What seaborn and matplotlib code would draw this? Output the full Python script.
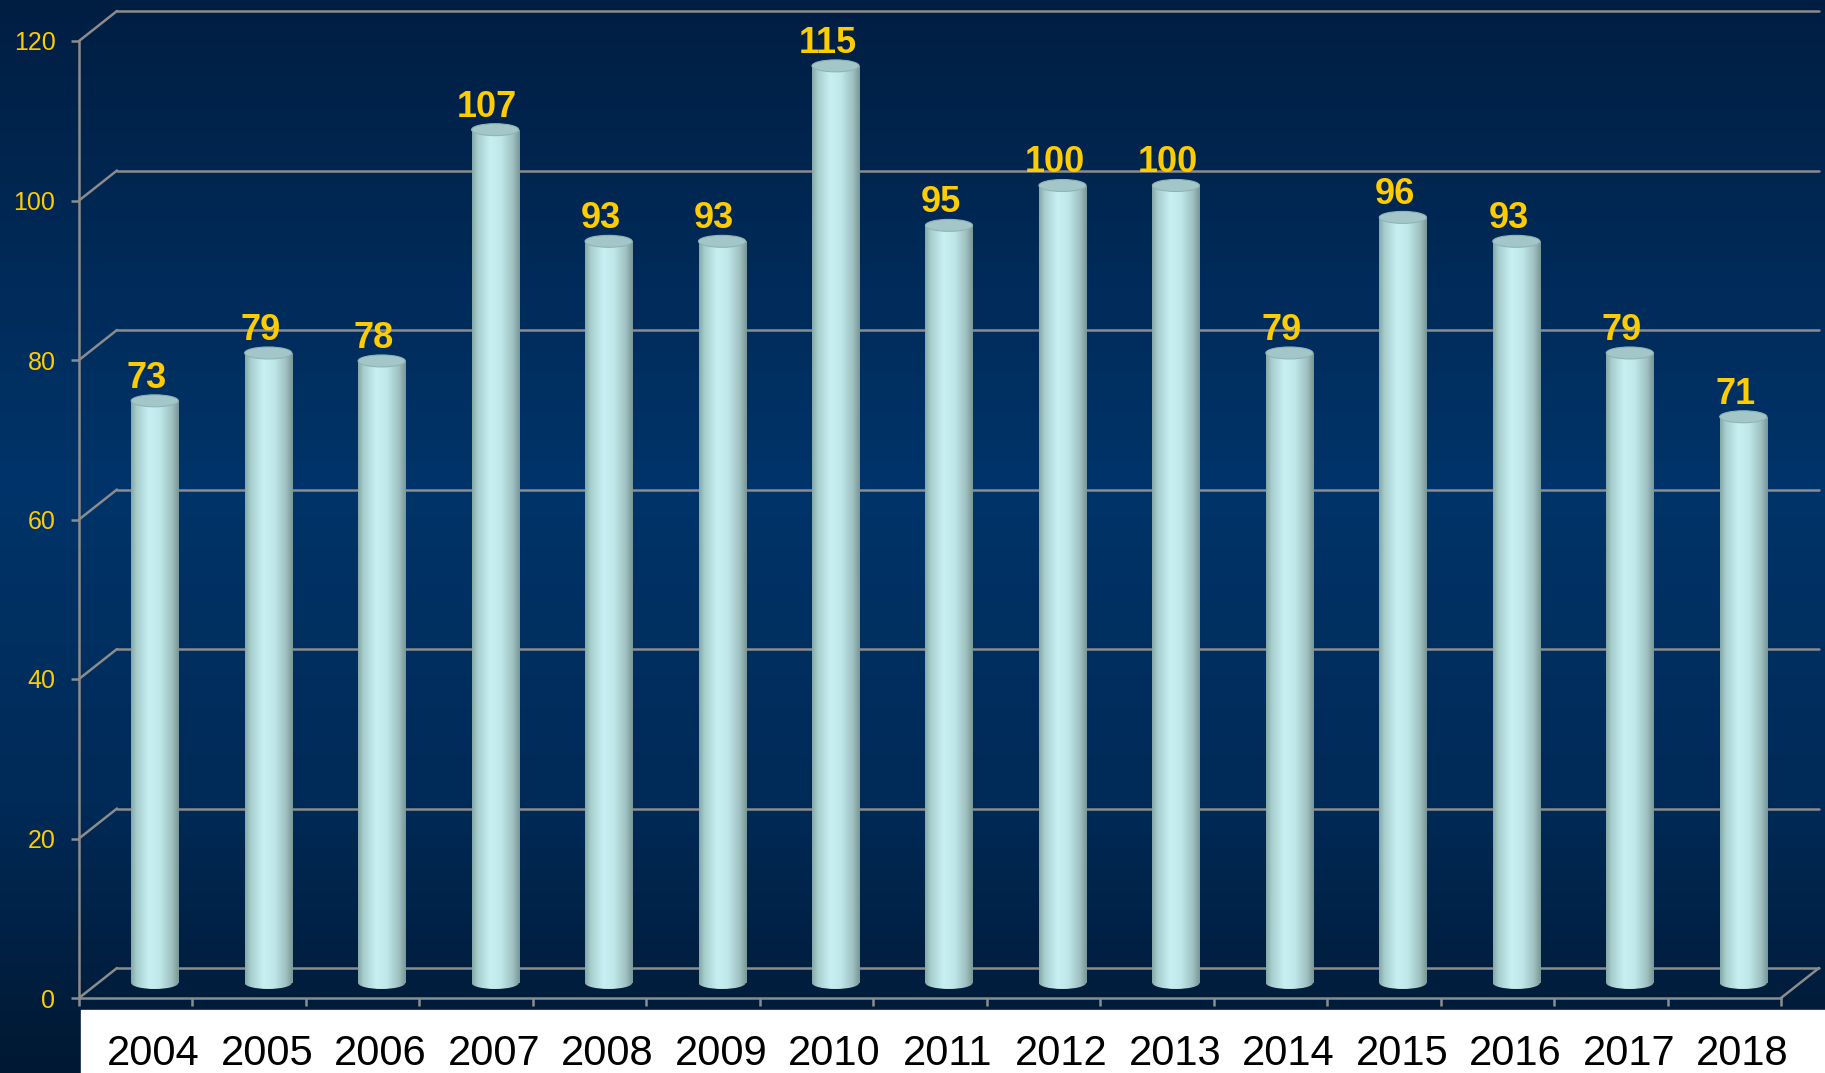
import numpy as np
import pandas as pd
import seaborn as sns
import matplotlib
matplotlib.use('Agg')
from matplotlib import pyplot as plt
import matplotlib.transforms as mtransforms
from matplotlib.colors import LinearSegmentedColormap
from matplotlib.patches import Ellipse, Rectangle

years = ['2004', '2005', '2006', '2007', '2008', '2009', '2010', '2011',
         '2012', '2013', '2014', '2015', '2016', '2017', '2018']
counts = [73, 79, 78, 107, 93, 93, 115, 95, 100, 100, 79, 96, 93, 79, 71]
y_ticks = [0, 20, 40, 60, 80, 100, 120]

df = pd.DataFrame({'year': years, 'count': counts})

sns.set_theme(style='white')
plt.rcParams['font.family'] = ['Liberation Sans', 'DejaVu Sans']

W, H, DPI = 1825, 1073, 100
fig = plt.figure(figsize=(W / DPI, H / DPI), dpi=DPI)

# background gradient (dark navy -> blue -> dark navy)
bg_cmap = LinearSegmentedColormap.from_list(
    'bg', [(0.0, '#001e42'), (0.45, '#00346a'), (0.75, '#002a57'), (1.0, '#001832')])
ax_bg = fig.add_axes([0, 0, 1, 1], zorder=-2)
ax_bg.imshow(np.linspace(0, 1, 256).reshape(-1, 1), cmap=bg_cmap, aspect='auto',
             extent=(0, 1, 0, 1), origin='upper')
ax_bg.set_axis_off()

# white strip for year labels
fig.add_artist(Rectangle((81 / W, 0), 1 - 81 / W, (H - 1010) / H,
                         transform=fig.transFigure, color='white', zorder=-1))

# front plane of the 3D box
left, right, y0px, y120px = 79, 1781, 998, 41
ax = fig.add_axes([left / W, (H - y0px) / H, (right - left) / W, (y0px - y120px) / H])
ax.set_facecolor('none')

px_x = (right - left) / 15
px_y = (y0px - y120px) / 120
DX = 38 / px_x          # depth offset in data units
DY = 30 / px_y
grid_col = '#8c8c8c'
grid_lw = 1.8

sns.barplot(data=df, x='year', y='count', width=0.415, ax=ax, color='#c2eaea',
            zorder=3)
ax.set_xlim(-0.5, 14.5)
ax.set_ylim(0, 120)

# back wall grid + side diagonals
for yv in y_ticks:
    ax.plot([-0.5 + DX, 14.5 + DX], [yv + DY, yv + DY], color=grid_col, lw=grid_lw,
            clip_on=False, zorder=1)
    ax.plot([-0.5, -0.5 + DX], [yv, yv + DY], color=grid_col, lw=grid_lw,
            clip_on=False, zorder=1)
ax.plot([14.5, 14.5 + DX], [0, DY], color=grid_col, lw=grid_lw, clip_on=False, zorder=1)

cyl_cmap = LinearSegmentedColormap.from_list(
    'cyl', [(0.0, '#84a8a8'), (0.12, '#a8cece'), (0.38, '#c8f0f2'),
            (0.6, '#c0e8ea'), (0.85, '#a0c2c2'), (1.0, '#7a9696')])
grad = np.linspace(0, 1, 256).reshape(1, -1)
ell_h = 1.5

for i, patch in enumerate(ax.patches):
    patch.set_x(patch.get_x() + DX / 2)
    patch.set_y(DY / 2)
    patch.set_facecolor('none')
    patch.set_edgecolor('none')
    x0 = patch.get_x()
    w = patch.get_width()
    h = patch.get_height()
    xc = x0 + w / 2
    im = ax.imshow(grad, cmap=cyl_cmap, aspect='auto', interpolation='bicubic',
                   extent=(x0, x0 + w, DY / 2, DY / 2 + h), zorder=3)
    im.set_clip_path(patch)
    bot = Ellipse((xc, DY / 2), w, ell_h, facecolor='none', edgecolor='none')
    ax.add_patch(bot)
    im2 = ax.imshow(grad, cmap=cyl_cmap, aspect='auto', interpolation='bicubic',
                    extent=(x0, x0 + w, DY / 2 - ell_h, DY / 2 + ell_h), zorder=3)
    im2.set_clip_path(bot)
    ax.add_patch(Ellipse((xc, DY / 2 + h), w, ell_h, facecolor='#a3c7c9',
                         edgecolor='#90b4b6', lw=0.8, zorder=4))
    ax.annotate(str(counts[i]), xy=(xc, DY / 2 + h), xytext=(-8, 13),
                textcoords='offset pixels', ha='center', va='baseline',
                color='#ffcc00', fontsize=26, fontweight='bold', zorder=5)

ax.set_xlim(-0.5, 14.5)
ax.set_ylim(0, 120)

for side in ['top', 'right']:
    ax.spines[side].set_visible(False)
for side in ['left', 'bottom']:
    ax.spines[side].set_color(grid_col)
    ax.spines[side].set_linewidth(grid_lw)
    ax.spines[side].set_zorder(2)

ax.set_yticks(y_ticks)
ax.set_yticklabels([str(t) for t in y_ticks])
ax.tick_params(axis='y', left=True, length=6, width=grid_lw, color=grid_col,
               labelcolor='#ffcc00', labelsize=18, pad=11)
ax.set_xticks(np.arange(15))
ax.set_xticklabels(years)
ax.set_xticks(np.arange(-0.5, 15, 1), minor=True)
ax.tick_params(axis='x', which='major', length=0, labelcolor='black',
               labelsize=30, pad=26)
ax.tick_params(axis='x', which='minor', bottom=True, length=6, width=grid_lw,
               color=grid_col)
ax.set_xlabel('')
ax.set_ylabel('')

shift = mtransforms.ScaledTranslation(18 / DPI, 0, fig.dpi_scale_trans)
for lab in ax.get_xticklabels():
    lab.set_transform(lab.get_transform() + shift)

fig.savefig('out.png', dpi=DPI)
